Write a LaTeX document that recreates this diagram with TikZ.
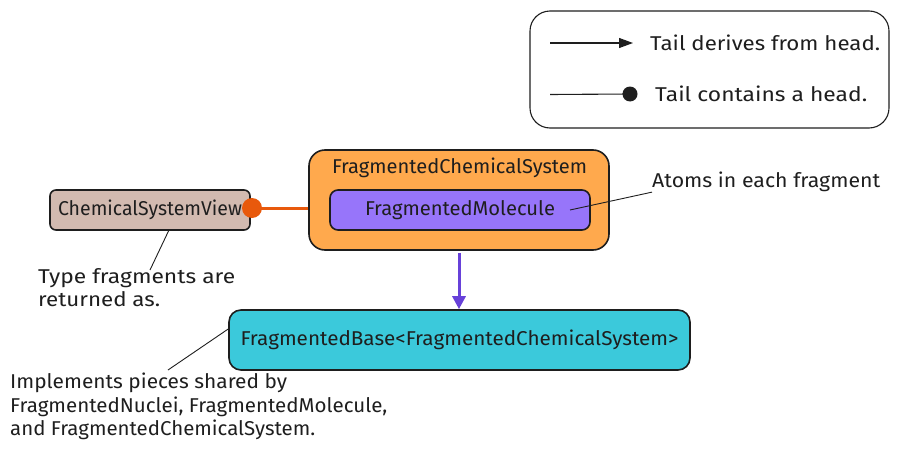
\documentclass[tikz,border=0pt]{standalone}
\usepackage{fontspec}
\usepackage{graphicx}
\setmainfont{Fira Sans}
\usetikzlibrary{arrows.meta}
\definecolor{orangefill}{HTML}{FFA94D}
\definecolor{purplefill}{HTML}{9775FA}
\definecolor{cyanfill}{HTML}{3BC9DB}
\definecolor{brownfill}{HTML}{D2BAB0}
\definecolor{orangeline}{HTML}{E8590C}
\definecolor{purpleline}{HTML}{6741D9}
\definecolor{ink}{HTML}{1E1E1E}
\newcommand{\fitw}[2]{\resizebox{#1pt}{\height}{#2}}
\tikzset{
  box/.style={draw=ink, line width=1.6pt, rounded corners=#1},
  box/.default=8pt,
  lbl/.style={text=ink, font=\fontsize{20}{24}\selectfont, inner sep=0pt},
  note/.style={text=ink, font=\fontsize{20}{23.5}\selectfont, inner sep=0pt, align=left},
  lead/.style={draw=ink, line width=0.9pt},
}
\begin{document}
\begin{tikzpicture}[x=1pt,y=-1pt]
\useasboundingbox (0,0) rectangle (900,455);
% legend
\draw[box=20pt, line width=1.1pt] (530,11) rectangle (889,128);
\coordinate (l1a) at (550,43);
\coordinate (l1b) at (633,43);
\draw[ink, line width=1.1pt, -{Triangle[length=14pt,width=10pt]}] (l1a) -- (l1b);
\node[lbl, anchor=west] (t1) at (650,43) {\fitw{230}{Tail derives from head.}};
\coordinate (l2a) at (550,94.5);
\node[circle, fill=ink, minimum size=15pt, inner sep=0pt] (d2) at (630,94) {};
\draw[ink, line width=1.1pt] (l2a) -- (d2.center);
\node[lbl, anchor=west] (t2) at (655,94) {\fitw{212}{Tail contains a head.}};
% orange container
\node[box=16pt, fill=orangefill, minimum width=300pt, minimum height=100pt] (fcs) at (459,200) {};
\node[lbl] (fcst) at (459.5,168) {\fitw{255}{FragmentedChemicalSystem}};
\node[box=8pt, fill=purplefill, minimum width=260pt, minimum height=40pt, lbl, draw=ink] (fm) at (460,210) {\fitw{190}{FragmentedMolecule}};
% annotation atoms
\node[lbl, anchor=west] (atoms) at (652,182) {\fitw{228}{Atoms in each fragment}};
\coordinate (atomsp) at (570,210);
\draw[lead] (atomsp) -- (atoms.south west);
% chemical system view
\node[box=6pt, fill=brownfill, minimum width=200pt, minimum height=40pt, lbl, draw=ink] (csv) at (150,210) {\fitw{184}{ChemicalSystemView}};
\node[circle, fill=orangeline, minimum size=20pt, inner sep=0pt] (dot) at (252,208) {};
\draw[orangeline, line width=3pt] (dot.center) -- (fcs.west |- dot.center);
% type fragments note
\node[note, anchor=north west] (tfn) at (38,268) {\fitw{197}{Type fragments are}\\\fitw{122}{returned as.}};
\coordinate (csvb) at (169,230);
\draw[lead] (csvb) -- (150,270);
% fragmented base
\node[box=12pt, fill=cyanfill, minimum width=461pt, minimum height=60pt, lbl, draw=ink] (fb) at (459.5,340) {\fitw{438}{FragmentedBase<FragmentedChemicalSystem>}};
\draw[purpleline, line width=3pt, -{Triangle[length=13pt,width=13pt]}] (fcs.south -| 459,0) ++(0,2) -- (fb.north -| 459,0);
% implements note
\node[note, anchor=north west] (impl) at (10,373) {\fitw{277}{Implements pieces shared by}\\\fitw{377}{FragmentedNuclei, FragmentedMolecule,}\\\fitw{305}{and FragmentedChemicalSystem.}};
\coordinate (implp) at (168,370);
\draw[lead] (implp) -- (fb.west |- 0,329);
\end{tikzpicture}
\end{document}
